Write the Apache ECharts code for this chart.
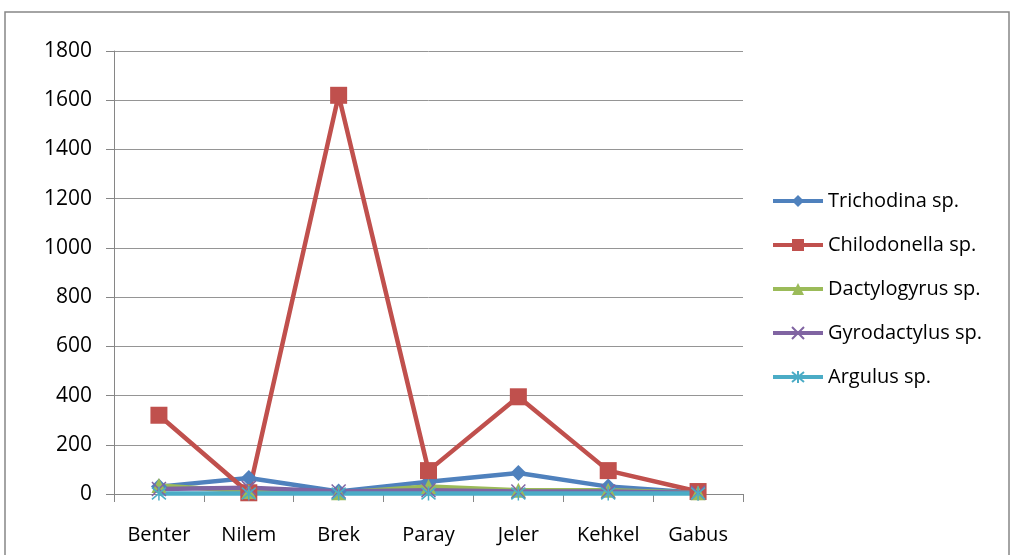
<!DOCTYPE html>
<html>
<head>
<meta charset="utf-8">
<script src="https://cdn.jsdelivr.net/npm/echarts@6/dist/echarts.min.js"></script>
<style>
  html, body { margin: 0; padding: 0; background: #fff; }
  #chart { width: 1012px; height: 555px; }
</style>
</head>
<body>
<div id="chart"></div>
<script>
// fish species (x axis)
var categories = ['Benter', 'Nilem', 'Brek', 'Paray', 'Jeler', 'Kehkel', 'Gabus']

// parasite counts per fish
var trichodina = [30, 65, 10, 50, 85, 30, 5]
var chilodonella = [320, 5, 1620, 95, 395, 95, 10]
var dactylogyrus = [35, 10, 5, 30, 15, 15, 5]
var gyrodactylus = [20, 25, 10, 15, 10, 10, 5]
var argulus = [2, 2, 2, 2, 2, 2, 2]

var yTicks = [0, 200, 400, 600, 800, 1000, 1200, 1400, 1600, 1800]

var font = '"Open Sans", "Noto Sans", sans-serif'

var crossPath = 'path://M0,0L10,10M10,0L0,10'
var starPath = 'path://M0,0L10,10M10,0L0,10M5,-1L5,11'

function mk(name, data, color, symbol, size, stroked) {
    var s = {
        name: name,
        type: 'line',
        data: data,
        symbol: symbol,
        symbolSize: size,
        lineStyle: { color: color, width: 4.5 },
        itemStyle: { color: color },
        emphasis: { disabled: true }
    }
    if (stroked) {
        s.itemStyle = { color: color, borderColor: color, borderWidth: 1.5 }
    }
    return s
}

var chart = echarts.init(document.getElementById('chart'))

chart.setOption({
    animation: false,
    textStyle: { fontFamily: font },
    graphic: [{
        type: 'rect',
        shape: { x: 5, y: 12, width: 1004, height: 560 },
        style: { fill: 'none', stroke: '#868686', lineWidth: 1.5 },
        silent: true
    }],
    grid: { left: 114, right: 269, top: 51, bottom: 61 },
    legend: {
        orient: 'vertical',
        left: 771,
        top: 191,
        padding: 0,
        itemWidth: 50,
        itemHeight: 15,
        itemGap: 24,
        lineStyle: { width: 4 },
        textStyle: { fontFamily: font, fontSize: 20, color: '#000' },
        data: ['Trichodina sp.', 'Chilodonella sp.', 'Dactylogyrus sp.', 'Gyrodactylus sp.', 'Argulus sp.']
    },
    xAxis: {
        type: 'category',
        data: categories,
        boundaryGap: true,
        axisLine: { lineStyle: { color: '#868686', width: 1 } },
        axisTick: { show: true, length: 8, lineStyle: { color: '#868686' } },
        axisLabel: { fontFamily: font, fontSize: 20, color: '#000', margin: 31 }
    },
    yAxis: {
        type: 'value',
        min: yTicks[0],
        max: yTicks[yTicks.length - 1],
        interval: 200,
        axisLine: { show: true, lineStyle: { color: '#868686', width: 1 } },
        axisTick: { show: true, length: 8, lineStyle: { color: '#868686' } },
        splitLine: { lineStyle: { color: '#959595', width: 1 } },
        axisLabel: {
            fontFamily: font, fontSize: 21, color: '#000', margin: 22,
            formatter: function (v) { return String(v) }
        }
    },
    series: [
        mk('Trichodina sp.', trichodina, '#4F81BD', 'diamond', 16),
        mk('Chilodonella sp.', chilodonella, '#C0504D', 'rect', 17),
        mk('Dactylogyrus sp.', dactylogyrus, '#9BBB59', 'triangle', 15),
        mk('Gyrodactylus sp.', gyrodactylus, '#8064A2', crossPath, 14, true),
        mk('Argulus sp.', argulus, '#4BACC6', starPath, 14, true)
    ]
})
</script>
</body>
</html>
